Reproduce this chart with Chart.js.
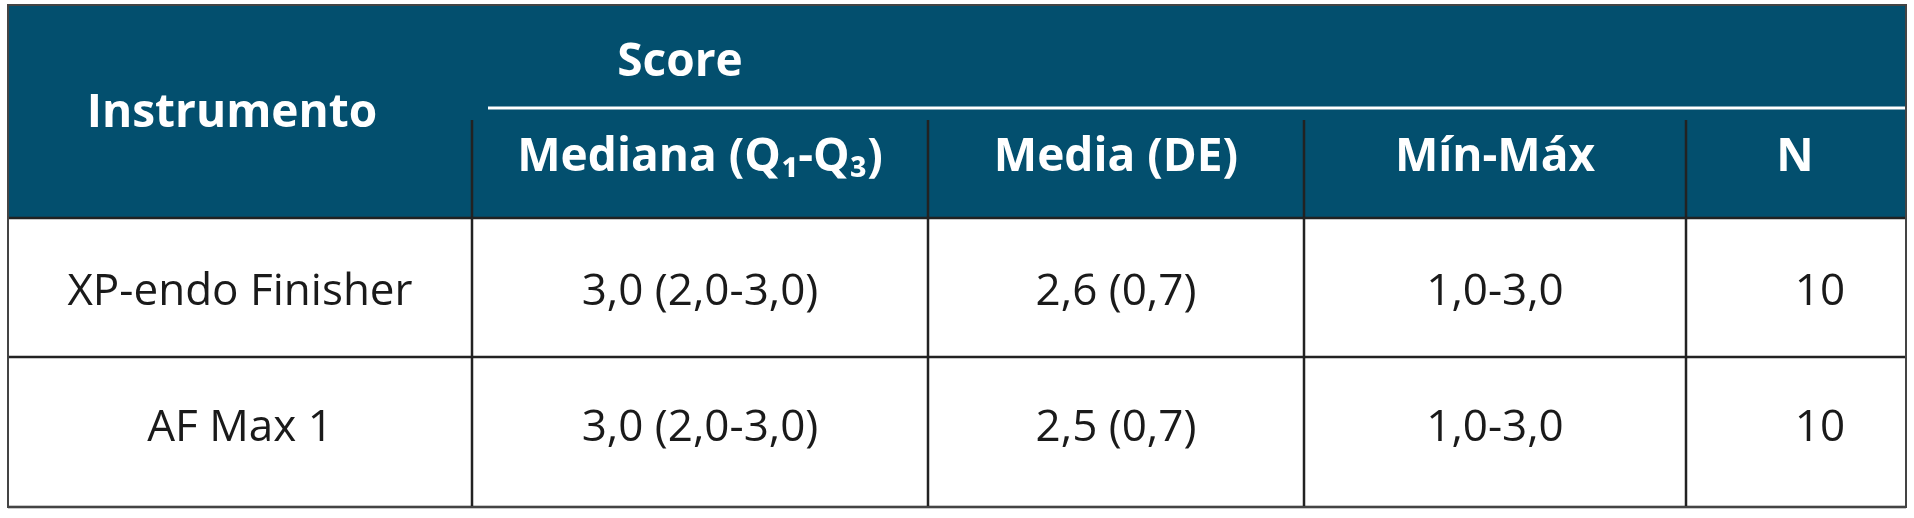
<!DOCTYPE html>
<html><head><meta charset="utf-8">
<script src="https://cdn.jsdelivr.net/npm/chart.js@4"></script>
<style>html,body{margin:0;padding:0;background:#fff}canvas{display:block}</style>
</head><body>
<canvas id="c" width="1914" height="518"></canvas>
<script>
const colEdges = [8, 472, 928, 1304, 1686, 1906];
const rowEdges = [5, 218, 357, 507];
const groupHeader = 'Score';
const headers = ['Instrumento', 'Mediana (Q\u2081-Q\u2083)', 'Media (DE)', 'Mín-Máx', 'N'];
const instruments = ['XP-endo Finisher', 'AF Max 1'];
const medianas = ['3,0 (2,0-3,0)', '3,0 (2,0-3,0)'];
const medias = ['2,6 (0,7)', '2,5 (0,7)'];
const minMax = ['1,0-3,0', '1,0-3,0'];
const nValues = ['10', '10'];

const tablePlugin = {
  id: 'table',
  afterDraw(chart) {
    const ctx = chart.ctx, x = chart.scales.x, y = chart.scales.y;
    const px = v => x.getPixelForValue(v), py = v => y.getPixelForValue(v);
    ctx.save();
    // header band
    ctx.fillStyle = '#034f6e';
    ctx.fillRect(px(colEdges[0]), py(rowEdges[0]), px(colEdges[5]) - px(colEdges[0]), py(rowEdges[1]) - py(rowEdges[0]));
    // white rule under Score
    ctx.strokeStyle = '#ffffff'; ctx.lineWidth = 3;
    ctx.beginPath(); ctx.moveTo(px(488), py(108)); ctx.lineTo(px(1906), py(108)); ctx.stroke();
    // grid
    ctx.strokeStyle = '#222'; ctx.lineWidth = 2.5;
    for (let i = 1; i < colEdges.length - 1; i++) {
      ctx.beginPath(); ctx.moveTo(px(colEdges[i]), py(120)); ctx.lineTo(px(colEdges[i]), py(rowEdges[3])); ctx.stroke();
    }
    for (let j = 1; j < rowEdges.length; j++) {
      ctx.beginPath(); ctx.moveTo(px(colEdges[0]), py(rowEdges[j])); ctx.lineTo(px(colEdges[5]), py(rowEdges[j])); ctx.stroke();
    }
    ctx.strokeStyle = '#444'; ctx.lineWidth = 2;
    ctx.strokeRect(px(colEdges[0]), py(rowEdges[0]), px(colEdges[5]) - px(colEdges[0]), py(rowEdges[3]) - py(rowEdges[0]));
    // header text
    ctx.fillStyle = '#fff'; ctx.textAlign = 'center'; ctx.textBaseline = 'middle';
    ctx.font = 'bold 46px "Open Sans"';
    ctx.fillText(groupHeader, px(680), py(63));
    ctx.fillText(headers[0], px(232), py(114));
    const hcx = [700, 1116, 1495, 1795];
    for (let i = 1; i < headers.length; i++) ctx.fillText(headers[i], px(hcx[i - 1]), py(158));
    // body
    ctx.fillStyle = '#1a1a1a'; ctx.font = '44px "Open Sans"';
    const bcx = [240, 700, 1116, 1495, 1820];
    const cols = [instruments, medianas, medias, minMax, nValues];
    const rcy = [292, 428];
    for (let r = 0; r < instruments.length; r++)
      for (let c = 0; c < cols.length; c++) ctx.fillText(cols[c][r], px(bcx[c]), py(rcy[r]));
    ctx.restore();
  }
};

new Chart(document.getElementById('c'), {
  type: 'scatter',
  data: { datasets: [{ data: [] }] },
  options: {
    responsive: false, animation: false,
    layout: { padding: 0 },
    plugins: { legend: { display: false }, tooltip: { enabled: false } },
    scales: {
      x: { type: 'linear', min: 0, max: 1914, display: false },
      y: { type: 'linear', min: 0, max: 518, reverse: true, display: false }
    }
  },
  plugins: [tablePlugin]
});
</script>
</body></html>
